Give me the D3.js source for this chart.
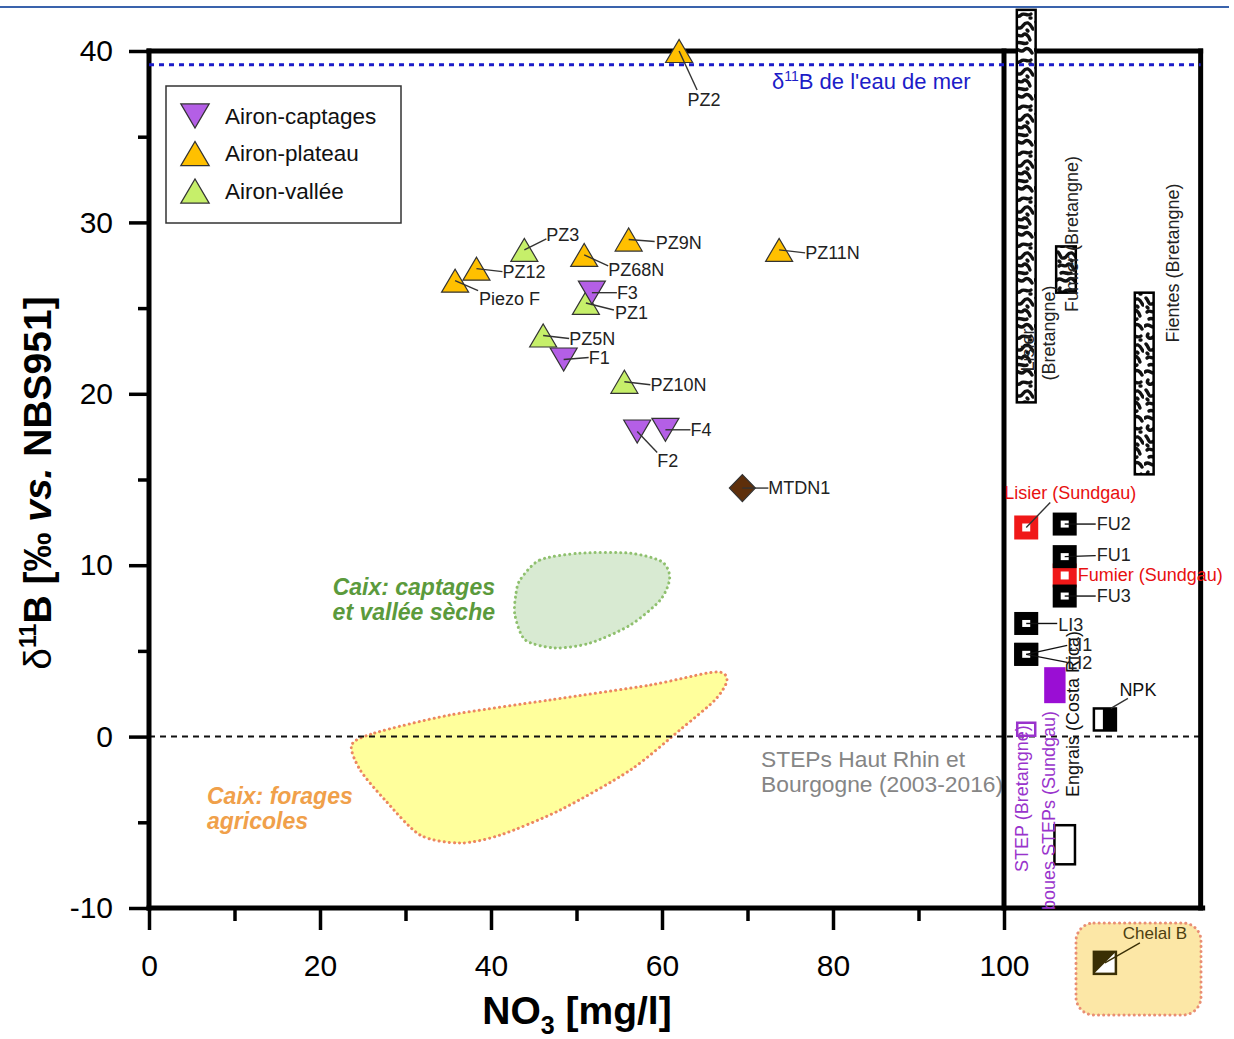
<!DOCTYPE html>
<html><head><meta charset="utf-8">
<script src="https://cdn.jsdelivr.net/npm/d3@7"></script>
<style>body{margin:0;background:#fff}svg{display:block}text{font-family:"Liberation Sans",Arial,sans-serif}</style>
</head><body><svg id="c" width="1234" height="1039"></svg>
<script>
// ---------- data ----------
const xTicks=[0,20,40,60,80,100];
const xMinor=[10,30,50,70,90];
const yTicks=[-10,0,10,20,30,40];
const yMinor=[-5,5,15,25,35];
const seawaterB=39.2;

const captages=[{name:"F3",no3:51.8,b:25.9},{name:"F1",no3:48.5,b:22.0},{name:"F2",no3:57.1,b:17.8},{name:"F4",no3:60.4,b:17.9}];
const plateau=[{name:"PZ2",no3:62.0,b:40.0},{name:"PZ9N",no3:56.1,b:29.0},{name:"PZ68N",no3:50.9,b:28.1},{name:"PZ12",no3:38.3,b:27.3},{name:"Piezo F",no3:35.8,b:26.6},{name:"PZ11N",no3:73.7,b:28.4}];
const vallee=[{name:"PZ3",no3:43.9,b:28.4},{name:"PZ1",no3:51.1,b:25.3},{name:"PZ5N",no3:46.1,b:23.4},{name:"PZ10N",no3:55.6,b:20.7}];
const other=[{name:"MTDN1",no3:69.4,b:14.5}];

const caixCaptages=[[43.4,9.14],[45.7,10.3],[50.4,10.7],[56.3,10.7],[60.0,10.2],[60.9,9.25],[59.8,7.97],[56.3,6.51],[51.6,5.46],[47.5,5.17],[44.0,5.64],[42.8,7.09],[42.9,8.26]];
const caixForages=[[23.7,-0.49],[26.4,0.21],[35.2,1.26],[46.9,2.14],[58.6,3.01],[66.2,3.77],[67.6,3.3],[66.2,2.14],[62.1,0.39],[56.3,-1.95],[48.1,-4.28],[41.1,-5.74],[36.4,-6.21],[31.7,-5.74],[27.6,-3.7],[24.7,-1.95]];

// end-member ranges (nominal x position in the right panel, d11B range)
const rangesBretagne=[{name:"Lisier",x0:101.5,x1:103.7,b0:19.5,b1:42.4},{name:"Fumier",x0:106.1,x1:108.4,b0:25.9,b1:28.6},{name:"Fientes",x0:115.3,x1:117.5,b0:15.3,b1:25.9}];
const bouesSTEPs={x0:104.7,x1:107.2,b0:1.95,b1:4.05};
const engraisCR={x0:105.9,x1:108.3,b0:-7.45,b1:-5.17};
const redPoints=[{name:"Lisier (Sundgau)",x:102.6,b:12.2},{name:"Fumier (Sundgau)",x:107.1,b:9.4}];
const blackPoints=[{name:"FU2",x:107.1,b:12.4},{name:"FU1",x:107.1,b:10.5},{name:"FU3",x:107.1,b:8.2},{name:"LI3",x:102.6,b:6.6},{name:"LI1",x:102.6,b:4.8},{name:"LI2",x:102.6,b:4.8}];
const stepBretagne={x:102.6,b:0.4};
const npk={x:111.8,b:1.0};
const chelal={x:111.8,b:-13.2};

// ---------- layout ----------
const labelPos={ // [lineDx,lineDy,textDx,textDy,anchor]
 "PZ2":[18,39,25,49,"middle"],"PZ9N":[26,2,27,3],"PZ68N":[24,11,24,15],"PZ12":[26,3,26,3],"Piezo F":[23,10,24,18],
 "PZ3":[22,-11,22,-15],"PZ11N":[26,3,26,3],"F3":[25,0,25,0],"PZ1":[28,7,29,10],"PZ5N":[26,3,26,3],"F1":[25,-2,25,-2],
 "PZ10N":[26,3,26,3],"F2":[20,21,20,29],"F4":[25,0,25,0],"MTDN1":[26,0,26,0],
 "Lisier (Sundgau)":[24,-25,44,-35,"middle"],"Fumier (Sundgau)":null,"FU2":[31,0,32,0],"FU1":[31,-1,32,-2],"FU3":[31,0,32,0],
 "LI3":[31,0,32,1],"LI1":[41,-9,41,-10],"LI2":[41,8,41,8]
};

const svg=d3.select("#c");
const x=d3.scaleLinear().domain([0,100]).range([149,1004]);
const y=d3.scaleLinear().domain([-10,40]).range([908,51]);
const X1=x(123),Y0=y(-10),Y1=y(40);

// header line
svg.append("line").attr("x1",0).attr("x2",1229).attr("y1",7).attr("y2",7).attr("stroke","#3A63AC").attr("stroke-width",2);

// organic "worm" texture
const defs=svg.append("defs");
const pat=defs.append("pattern").attr("id","worm").attr("patternUnits","userSpaceOnUse").attr("width",22).attr("height",46);
pat.append("rect").attr("width",22).attr("height",46).attr("fill","#fff");
pat.selectAll("path").data([
 "M1,4 C5,0 8,8 12,4 C15,1 18,3 20,7",
 "M4,12 C2,15 6,18 9,15 C12,12 15,17 19,14",
 "M2,22 C5,25 4,29 8,28 C12,27 11,22 16,23 C19,24 20,28 21,29",
 "M3,36 C6,33 9,38 11,35 C13,32 17,36 18,40",
 "M5,43 C8,41 12,45 15,43",
 "M15,30 L16,31","M3,31 L4,32","M18,18 L19,18"
]).enter().append("path")
 .attr("d",d=>d).attr("fill","none").attr("stroke","#111").attr("stroke-width",3.4).attr("stroke-linecap","round");

// Caix regions
const blob=d3.line().x(d=>x(d[0])).y(d=>y(d[1])).curve(d3.curveCardinalClosed.tension(0.2));
svg.append("path").attr("d",blob(caixCaptages)).attr("fill","#D8EAD2").attr("stroke","#8FC06E").attr("stroke-width",3).attr("stroke-dasharray","0.1,5").attr("stroke-linecap","round");
svg.append("path").attr("d",blob(caixForages)).attr("fill","#FFFF9C").attr("stroke","#EC8760").attr("stroke-width",3).attr("stroke-dasharray","0.1,5").attr("stroke-linecap","round");

svg.append("g").attr("fill","#5B9A3C").attr("font-size",23).attr("font-weight","bold").attr("font-style","italic").attr("text-anchor","end")
 .selectAll("text").data(["Caix: captages","et vallée sèche"]).enter().append("text").attr("x",495).attr("y",(d,i)=>595+i*25).text(d=>d);
svg.append("g").attr("fill","#F0A04A").attr("font-size",23).attr("font-weight","bold").attr("font-style","italic")
 .selectAll("text").data(["Caix: forages","agricoles"]).enter().append("text").attr("x",207).attr("y",(d,i)=>804+i*25).text(d=>d);
svg.append("g").attr("fill","#858585").attr("font-size",22.8)
 .selectAll("text").data(["STEPs Haut Rhin et","Bourgogne (2003-2016)"]).enter().append("text").attr("x",761).attr("y",(d,i)=>767+i*25).text(d=>d);

// zero dashed line
svg.append("line").attr("x1",x(0)).attr("x2",X1).attr("y1",y(0)).attr("y2",y(0)).attr("stroke","#111").attr("stroke-width",2).attr("stroke-dasharray","6,5");

// axes ticks
const tk=g=>{g.select(".domain").remove();g.selectAll("line").attr("stroke","#000").attr("stroke-width",3.5);g.selectAll("text").attr("font-size",30).attr("fill","#000").attr("font-family","Liberation Sans, Arial, sans-serif");};
const fmt=d=>String(d);
svg.append("g").attr("transform",`translate(${x(0)},0)`).call(d3.axisLeft(y).tickValues(yTicks).tickSize(20).tickPadding(16).tickFormat(fmt)).call(tk);
svg.append("g").attr("transform",`translate(${x(0)},0)`).call(d3.axisLeft(y).tickValues(yMinor).tickSize(11).tickFormat("")).call(tk);
svg.append("g").attr("transform",`translate(0,${Y0})`).call(d3.axisBottom(x).tickValues(xTicks).tickSize(22).tickPadding(25).tickFormat(fmt)).call(tk);
svg.append("g").attr("transform",`translate(0,${Y0})`).call(d3.axisBottom(x).tickValues(xMinor).tickSize(13).tickFormat("")).call(tk);

// frame
const fr=svg.append("g").attr("stroke","#000").attr("stroke-width",5).attr("stroke-linecap","square");
fr.append("line").attr("x1",x(0)).attr("x2",x(0)).attr("y1",Y1).attr("y2",Y0);
fr.append("line").attr("x1",x(0)).attr("x2",X1).attr("y1",Y1).attr("y2",Y1);
fr.append("line").attr("x1",X1).attr("x2",X1).attr("y1",Y1).attr("y2",Y0);
fr.append("line").attr("x1",x(0)).attr("x2",X1+2).attr("y1",Y0).attr("y2",Y0);
fr.append("line").attr("x1",x(100)).attr("x2",x(100)).attr("y1",Y1).attr("y2",Y0);

// Bretagne ranges
svg.selectAll("rect.rng").data(rangesBretagne).enter().append("rect").attr("class","rng")
 .attr("x",d=>x(d.x0)).attr("width",d=>x(d.x1)-x(d.x0)).attr("y",d=>y(d.b1)).attr("height",d=>y(d.b0)-y(d.b1))
 .attr("fill","url(#worm)").attr("stroke","#000").attr("stroke-width",2.5);
// seawater line
svg.append("line").attr("x1",x(0)).attr("x2",X1).attr("y1",y(seawaterB)).attr("y2",y(seawaterB)).attr("stroke","#1C1CC8").attr("stroke-width",3).attr("stroke-dasharray","5,5");
svg.append("text").attr("x",772).attr("y",89).attr("font-size",22).attr("fill","#1C1CC8")
 .call(t=>{t.append("tspan").text("δ");t.append("tspan").attr("font-size",14).attr("dy",-8).text("11");t.append("tspan").attr("dy",8).text("B de l'eau de mer");});

// rotated labels
const rot=(tx,ty,txt,col,anchor)=>svg.append("text").attr("transform",`translate(${tx},${ty}) rotate(-90)`).attr("text-anchor",anchor||"middle").attr("dy","0.35em").attr("font-size",18).attr("fill",col).text(txt);
rot(1028,350,"Lisier","#222");
rot(1049,333,"(Bretangne)","#222");
rot(1072,234,"Fumier (Bretangne)","#222");
rot(1173,263,"Fientes (Bretangne)","#222");

// other end-members
svg.append("rect").attr("x",x(bouesSTEPs.x0)).attr("width",x(bouesSTEPs.x1)-x(bouesSTEPs.x0)).attr("y",y(bouesSTEPs.b1)).attr("height",y(bouesSTEPs.b0)-y(bouesSTEPs.b1)).attr("fill","#9A0ED4");
svg.append("rect").attr("x",x(engraisCR.x0)).attr("width",x(engraisCR.x1)-x(engraisCR.x0)).attr("y",y(engraisCR.b1)).attr("height",y(engraisCR.b0)-y(engraisCR.b1)).attr("fill","#fff").attr("stroke","#000").attr("stroke-width",2.5);
svg.append("rect").attr("x",x(stepBretagne.x)-9).attr("y",y(stepBretagne.b)-7).attr("width",18).attr("height",13).attr("fill","none").attr("stroke","#9933CC").attr("stroke-width",2.5);
rot(1022,872,"STEP (Bretangne)","#9933CC","start");
rot(1049,910,"boues STEPs (Sundgau)","#9933CC","start");
rot(1073,797,"Engrais (Costa Rica)","#111","start");

// leader line + label helper
function label(cx,cy,name,col,lc){
 const p=labelPos[name]; if(p===undefined||p===null) return;
 svg.append("line").attr("x1",cx).attr("y1",cy).attr("x2",cx+p[0]).attr("y2",cy+p[1]).attr("stroke",lc||"#333").attr("stroke-width",1.4);
 svg.append("text").attr("x",cx+p[2]).attr("y",cy+p[3]).attr("dy","0.35em").attr("text-anchor",p[4]||"start").attr("font-size",18).attr("fill",col||"#222").text(name);
}

// red / black squares
redPoints.forEach(d=>{
 svg.append("rect").attr("x",x(d.x)-8).attr("y",y(d.b)-8).attr("width",16).attr("height",16).attr("fill","#fff").attr("stroke","#F01818").attr("stroke-width",8);
});
label(x(redPoints[0].x),y(redPoints[0].b),"Lisier (Sundgau)","#E81010","#333");
blackPoints.forEach(d=>{
 svg.append("rect").attr("x",x(d.x)-8).attr("y",y(d.b)-7.5).attr("width",16).attr("height",15).attr("fill","#fff").attr("stroke","#000").attr("stroke-width",8);
});
blackPoints.forEach(d=>label(x(d.x),y(d.b),d.name,"#222","#111"));
svg.append("text").attr("x",x(redPoints[1].x)+13).attr("y",y(redPoints[1].b)-1).attr("dy","0.35em").attr("font-size",18).attr("fill","#E81010").text("Fumier (Sundgau)");

// NPK
{const cx=x(npk.x),cy=y(npk.b);
 svg.append("rect").attr("x",cx-11).attr("y",cy-11).attr("width",22).attr("height",22).attr("fill","#fff").attr("stroke","#000").attr("stroke-width",2.5);
 svg.append("rect").attr("x",cx-2).attr("y",cy-11).attr("width",13).attr("height",22).attr("fill","#000");
 svg.append("line").attr("x1",cx+6).attr("y1",cy-11).attr("x2",cx+23).attr("y2",cy-21).attr("stroke","#333").attr("stroke-width",1.4);
 svg.append("text").attr("x",cx+33).attr("y",cy-30).attr("dy","0.35em").attr("text-anchor","middle").attr("font-size",18).attr("fill","#111").text("NPK");}

// Chelal B
{const cx=x(chelal.x),cy=y(chelal.b);
 svg.append("rect").attr("x",1076).attr("y",923).attr("width",125).attr("height",92).attr("rx",18).attr("fill","#FCE7A6").attr("stroke","#E98E74").attr("stroke-width",3).attr("stroke-dasharray","0.1,5").attr("stroke-linecap","round");
 svg.append("rect").attr("x",cx-11).attr("y",cy-11).attr("width",22).attr("height",22).attr("fill","#fff").attr("stroke","#3A2F05").attr("stroke-width",2.5);
 svg.append("path").attr("d",`M${cx-11},${cy-11}L${cx+11},${cy-11}L${cx-11},${cy+11}Z`).attr("fill","#3A2F05");
 svg.append("line").attr("x1",cx).attr("y1",cy).attr("x2",cx+35).attr("y2",cy-20).attr("stroke","#3A2F05").attr("stroke-width",1.4);
 svg.append("text").attr("x",cx+50).attr("y",cy-30).attr("dy","0.35em").attr("text-anchor","middle").attr("font-size",17).attr("fill","#4D4010").text("Chelal B");}

// Airon points
const up="M-13.5,11.5L13.5,11.5L0,-11.5Z", down="M-13.5,-11.5L13.5,-11.5L0,11.5Z", dia="M0,-13.5L13,0L0,13.5L-13,0Z";
const series=[{data:plateau,shape:up,col:"#FFC000"},{data:vallee,shape:up,col:"#C6EF6A"},{data:captages,shape:down,col:"#B45FE6"},{data:other,shape:dia,col:"#5E2F0B"}];
series.forEach(s=>s.data.forEach(d=>{
 svg.append("path").attr("d",s.shape).attr("transform",`translate(${x(d.no3)},${y(d.b)})`).attr("fill",s.col).attr("stroke","#333").attr("stroke-width",1.2);
}));
series.forEach(s=>s.data.forEach(d=>label(x(d.no3),y(d.b),d.name)));

// legend
const lg=svg.append("g");
lg.append("rect").attr("x",166).attr("y",86).attr("width",235).attr("height",137).attr("fill","#fff").attr("stroke","#333").attr("stroke-width",1.5);
[{t:"Airon-captages",s:down,c:"#B45FE6"},{t:"Airon-plateau",s:up,c:"#FFC000"},{t:"Airon-vallée",s:up,c:"#C6EF6A"}].forEach((e,i)=>{
 lg.append("path").attr("d",e.s).attr("transform",`translate(195,${116+i*37.5}) scale(1.05)`).attr("fill",e.c).attr("stroke","#333").attr("stroke-width",1.2);
 lg.append("text").attr("x",225).attr("y",116+i*37.5).attr("dy","0.35em").attr("font-size",22.5).attr("fill","#111").text(e.t);
});

// axis titles
svg.append("text").attr("x",577).attr("y",1024).attr("text-anchor","middle").attr("font-size",39).attr("font-weight","bold").attr("fill","#000")
 .call(t=>{t.append("tspan").text("NO");t.append("tspan").attr("font-size",25).attr("dy",10).text("3");t.append("tspan").attr("dy",-10).text(" [mg/l]");});
svg.append("text").attr("transform","translate(51,483) rotate(-90)").attr("text-anchor","middle").attr("font-size",39).attr("font-weight","bold").attr("fill","#000")
 .call(t=>{t.append("tspan").attr("font-weight","normal").text("δ");t.append("tspan").attr("font-size",23).attr("dy",-15).text("11");t.append("tspan").attr("dy",15).text("B [‰ ");t.append("tspan").attr("font-style","italic").text("vs.");t.append("tspan").text(" NBS951]");});
</script></body></html>
